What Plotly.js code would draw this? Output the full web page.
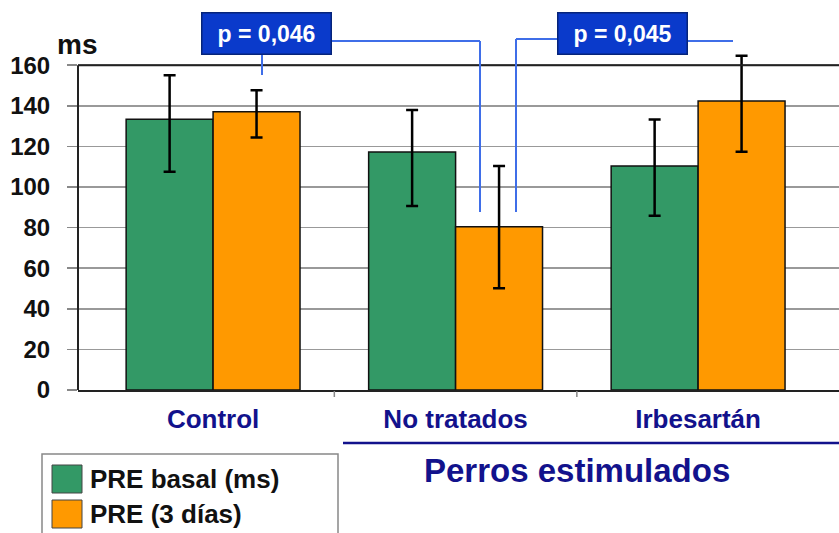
<!DOCTYPE html>
<html>
<head>
<meta charset="utf-8">
<script src="https://cdn.plot.ly/plotly-3.0.1.min.js"></script>
<style>html,body{margin:0;padding:0;background:#fff;}#chart{width:839px;height:533px;}</style>
</head>
<body>
<div id="chart"></div>
<script>
// ---- data ----
const categories = ["Control", "No tratados", "Irbesartán"];
const seriesNames = ["PRE basal (ms)", "PRE (3 días)"];
const basal = [133.4, 117.2, 110.3];
const basalErrPlus = [21.7, 20.7, 23.0];
const basalErrMinus = [25.9, 26.6, 24.5];
const dias3 = [137.0, 80.4, 142.4];
const dias3ErrPlus = [10.7, 29.9, 22.2];
const dias3ErrMinus = [12.6, 30.3, 25.1];
const yTickVals = [0, 20, 40, 60, 80, 100, 120, 140, 160];
const xBoundaryTicks = [0.5, 1.5];
const pLabels = ["p = 0,046", "p = 0,045"];
const groupLabel = "Perros estimulados";
const unitLabel = "ms";

// ---- layout helpers ----
const W = 839, H = 533, ML = 78, MR = 0, MT = 53, MB = 143;
const PW = W - ML - MR, PH = H - MT - MB;
const px = v => (v - ML) / PW;
const py = v => (H - MB - v) / PH;
const FONT = "Liberation Sans, Arial, sans-serif";
const NAVY = "#12128c";
const GREEN = "#339966", ORANGE = "#ff9900";
const CONN = "#3f6ee8";

const errStyle = {type: "data", symmetric: false, color: "#000", thickness: 2.5, width: 6};

const traces = [
  {type: "bar", x: categories, y: basal, name: seriesNames[0],
   marker: {color: GREEN, line: {color: "#111", width: 1.5}},
   error_y: Object.assign({}, errStyle, {array: basalErrPlus, arrayminus: basalErrMinus})},
  {type: "bar", x: categories, y: dias3, name: seriesNames[1],
   marker: {color: ORANGE, line: {color: "#111", width: 1.5}},
   error_y: Object.assign({}, errStyle, {array: dias3ErrPlus, arrayminus: dias3ErrMinus})}
];

function seg(x0, y0, x1, y1, color, width) {
  return {type: "line", xref: "paper", yref: "paper", x0: px(x0), y0: py(y0), x1: px(x1), y1: py(y1),
          line: {color: color, width: width}};
}

const shapes = [
  // frame top line at 160 and left axis line
  {type: "line", xref: "paper", yref: "y", x0: 0, x1: 1, y0: 160, y1: 160, line: {color: "#222", width: 2}},
  {type: "line", xref: "paper", yref: "y", x0: 0, x1: 0, y0: 0, y1: 160, line: {color: "#222", width: 2}},
  // p = 0,046 connectors
  seg(332, 41, 480, 41, CONN, 2),
  seg(480, 41, 480, 212, CONN, 2),
  seg(262, 55, 262, 75, CONN, 2),
  // p = 0,045 connectors
  seg(557, 39, 516, 39, CONN, 2),
  seg(516, 39, 516, 212, CONN, 2),
  seg(687, 41, 733, 41, CONN, 2),
  // group underline
  seg(343, 443, 839, 443, NAVY, 2.5),
  // legend box and swatches
  {type: "rect", xref: "paper", yref: "paper", x0: px(42), x1: px(338), y0: py(454), y1: py(548),
   line: {color: "#888", width: 1.5}, fillcolor: "#fff", layer: "below"},
  {type: "rect", xref: "paper", yref: "paper", x0: px(52), x1: px(82), y0: py(465), y1: py(493),
   line: {color: "#444", width: 1}, fillcolor: GREEN},
  {type: "rect", xref: "paper", yref: "paper", x0: px(52), x1: px(82), y0: py(500), y1: py(528),
   line: {color: "#444", width: 1}, fillcolor: ORANGE}
];
// category-boundary tick marks (only between groups)
xBoundaryTicks.forEach(b => shapes.push({type: "line", xref: "x", yref: "paper", x0: b, x1: b,
  y0: py(391), y1: py(397), line: {color: "#888", width: 1.5}}));

function boxAnn(text, cx, cy) {
  return {xref: "paper", yref: "paper", x: px(cx), y: py(cy), xanchor: "center", yanchor: "middle",
          text: text, showarrow: false, width: 126, height: 38,
          bgcolor: "#0a3acb", bordercolor: "#06247a", borderwidth: 1.5,
          font: {family: FONT, size: 23, color: "#fff", weight: "bold"}};
}

const annotations = [
  {xref: "paper", yref: "paper", x: px(77), y: py(44), xanchor: "center", yanchor: "middle",
   text: unitLabel, showarrow: false, font: {family: FONT, size: 28, color: "#111", weight: "bold"}},
  boxAnn(pLabels[0], 266, 34),
  boxAnn(pLabels[1], 622, 34),
  {xref: "paper", yref: "paper", x: px(577), y: py(470), xanchor: "center", yanchor: "middle",
   text: groupLabel, showarrow: false, font: {family: FONT, size: 33, color: NAVY, weight: "bold"}},
  {xref: "paper", yref: "paper", x: px(88), y: py(479), xanchor: "left", yanchor: "middle",
   text: seriesNames[0], showarrow: false, font: {family: FONT, size: 26, color: "#111", weight: "bold"}},
  {xref: "paper", yref: "paper", x: px(88), y: py(514), xanchor: "left", yanchor: "middle",
   text: seriesNames[1], showarrow: false, font: {family: FONT, size: 26, color: "#111", weight: "bold"}}
];

const layout = {
  width: W, height: H,
  margin: {l: ML, r: MR, t: MT, b: MB, pad: 0},
  paper_bgcolor: "#fff", plot_bgcolor: "#fff",
  showlegend: false,
  barmode: "group", bargap: 0.283, bargroupgap: 0,
  xaxis: {
    type: "category", range: [-0.557, 2.581],
    showgrid: false, zeroline: false,
    showline: true, linecolor: "#222", linewidth: 2,
    ticks: "",
    tickfont: {family: FONT, size: 26, color: NAVY, weight: "bold"},
    ticklabelstandoff: 5,
    fixedrange: true
  },
  yaxis: {
    range: [0, 166], tickvals: yTickVals, ticktext: yTickVals.map(String),
    showgrid: true, gridcolor: "#999", gridwidth: 1.5,
    zeroline: false, showline: false,
    ticks: "outside", ticklen: 10, tickcolor: "#888", tickwidth: 1.5,
    tickfont: {family: FONT, size: 24, color: "#111", weight: "bold"},
    ticklabelstandoff: 12,
    fixedrange: true
  },
  shapes: shapes,
  annotations: annotations
};

Plotly.newPlot("chart", traces, layout, {displayModeBar: false, staticPlot: true});
</script>
</body>
</html>
